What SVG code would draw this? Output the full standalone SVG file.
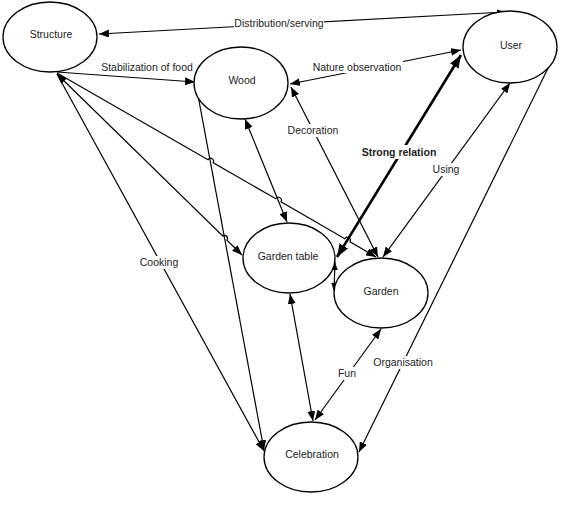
<svg xmlns="http://www.w3.org/2000/svg" width="561" height="508" viewBox="0 0 561 508">
<style>
.node ellipse{fill:#fff;stroke:#000;stroke-width:1.3}
text{font-family:"Liberation Sans",Arial,sans-serif;font-size:10.5px;fill:#222;text-anchor:middle}
.edge{fill:none;stroke:#000;stroke-width:1.2}
.strong{fill:none;stroke:#000;stroke-width:2.6}
.bg{fill:#fff}
.bold{font-weight:bold}
</style>
<defs>
<marker id="a" markerUnits="userSpaceOnUse" markerWidth="10" markerHeight="8" refX="10" refY="4" orient="auto-start-reverse"><path d="M0,0 L10,4 L0,8 z" fill="#000"/></marker>
<marker id="s" markerUnits="userSpaceOnUse" markerWidth="8" markerHeight="6" refX="8" refY="3" orient="auto-start-reverse"><path d="M0,0 L8,3 L0,6 z" fill="#000"/></marker>
<marker id="b" markerUnits="userSpaceOnUse" markerWidth="13" markerHeight="10" refX="13" refY="5" orient="auto-start-reverse"><path d="M0,0 L13,5 L0,10 z" fill="#000"/></marker>
</defs>
<rect width="561" height="508" fill="#fff"/>
<g id="connectors">
<line class="edge" x1="99" y1="34" x2="505" y2="12" marker-start="url(#a)" marker-end="url(#s)"/>
<line class="edge" x1="57" y1="72" x2="195" y2="82" marker-end="url(#a)"/>
<line class="edge" x1="461" y1="50" x2="290" y2="84" marker-start="url(#a)" marker-end="url(#a)"/>
<line class="strong" x1="461" y1="55" x2="337" y2="257" marker-start="url(#b)" marker-end="url(#b)"/>
<line class="edge" x1="510" y1="83" x2="383" y2="257" marker-start="url(#a)" marker-end="url(#a)"/>
<line class="edge" x1="557" y1="50" x2="359" y2="452" marker-end="url(#a)"/>
<line class="edge" x1="378" y1="257" x2="291" y2="87" marker-start="url(#a)" marker-end="url(#a)"/>
<path class="edge" d="M57,73 L208,159.8 A3,3 0 0 1 213.2,162.8 L275.8,198.8 A3,3 0 0 1 281,201.8 L344.8,238.7 A3,3 0 0 1 350,241.7 L376,257" marker-end="url(#a)"/>
<path class="edge" d="M57,74 L222.7,236 A3,3 0 0 1 226.9,240.2 L242,255" marker-start="url(#a)" marker-end="url(#a)"/>
<line class="edge" x1="57" y1="74" x2="264" y2="451" marker-end="url(#a)"/>
<line class="edge" x1="197" y1="90" x2="264" y2="450" marker-end="url(#a)"/>
<line class="edge" x1="245" y1="119" x2="287" y2="222" marker-start="url(#a)" marker-end="url(#a)"/>
<line class="edge" x1="290" y1="294" x2="313" y2="421" marker-start="url(#a)" marker-end="url(#a)"/>
<line class="edge" x1="381" y1="329" x2="315" y2="420" marker-start="url(#a)" marker-end="url(#a)"/>
<line class="edge" x1="335" y1="262" x2="334" y2="291" marker-start="url(#s)" marker-end="url(#s)"/>
<rect class="bg" x="234" y="18" width="90" height="12"/>
<text x="279" y="27">Distribution/serving</text>
<text x="147" y="71">Stabilization of food</text>
<rect class="bg" x="312" y="61" width="91" height="12"/>
<text x="357" y="71">Nature observation</text>
<rect class="bg" x="361" y="145" width="77" height="14"/>
<text class="bold" x="399" y="156">Strong relation</text>
<rect class="bg" x="431" y="163" width="30" height="13"/>
<text x="446" y="173">Using</text>
<rect class="bg" x="372" y="356" width="62" height="13"/>
<text x="403" y="366">Organisation</text>
<rect class="bg" x="287" y="124" width="52" height="13"/>
<text x="313" y="134">Decoration</text>
<rect class="bg" x="139" y="256" width="40" height="13"/>
<text x="159" y="266">Cooking</text>
<rect class="bg" x="337" y="367" width="20" height="13"/>
<text x="347" y="377">Fun</text>
</g>
<g id="structure" class="node"><ellipse cx="50" cy="37" rx="47" ry="35"/><text x="51" y="38">Structure</text></g>
<g id="wood" class="node"><ellipse cx="241" cy="83" rx="47" ry="36"/><text x="242" y="84">Wood</text></g>
<g id="user" class="node"><ellipse cx="510" cy="47" rx="47" ry="36"/><text x="511" y="49">User</text></g>
<g id="garden-table" class="node"><ellipse cx="289" cy="258" rx="46" ry="35"/><text x="288" y="260">Garden table</text></g>
<g id="garden" class="node"><ellipse cx="381" cy="293" rx="47" ry="35"/><text x="381" y="295">Garden</text></g>
<g id="celebration" class="node"><ellipse cx="311" cy="457" rx="47" ry="35"/><text x="312" y="458">Celebration</text></g>
</svg>
